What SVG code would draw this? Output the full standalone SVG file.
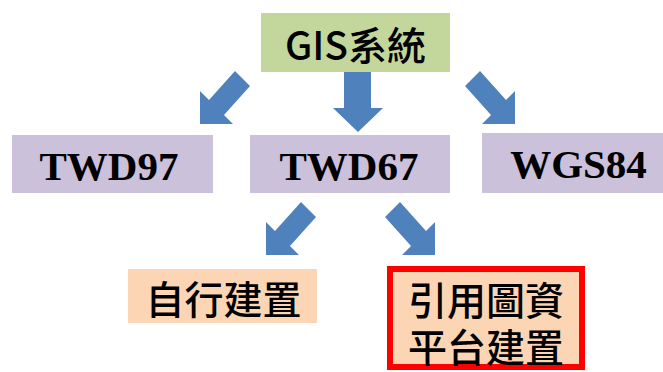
<svg xmlns="http://www.w3.org/2000/svg" width="663" height="372" viewBox="0 0 663 372">
<style>
.arrow{fill:#4F81BD}
.green{fill:#C3D69B}
.purple{fill:#CCC1DA}
.peach{fill:#FCD5B5}
.red{fill:#FCD5B5;stroke:#FF0000;stroke-width:6}
.cjk{font-family:"Noto Sans CJK TC","Noto Sans",sans-serif;font-size:39px;font-weight:500;fill:#000;text-anchor:middle}
.times{font-family:"Liberation Serif","Times New Roman",serif;font-weight:bold;font-size:41px;fill:#000;text-anchor:middle}
</style>
<rect width="663" height="372" fill="#FFFFFF"/>
<g id="connectors">
<polygon class="arrow" points="200,124 200,91 209,100 235,71 250,86 224,115 233,124"/>
<polygon class="arrow" points="344,72 371,72 371,108 383,108 358,132 333,108 344,108"/>
<polygon class="arrow" points="515,124 515,91 506,100 480,71 465,86 491,115 482,124"/>
<polygon class="arrow" points="266,255 266,222 275,231 301,202 316,217 290,246 299,255"/>
<polygon class="arrow" points="435,255 435,222 426,231 400,202 385,217 411,246 402,255"/>
</g>
<g id="gis">
<rect class="green" x="261" y="13" width="189" height="59"/>
<text class="cjk" x="355.5" y="60" font-size="40" font-weight="bold">GIS系統</text>
</g>
<g id="twd97">
<rect class="purple" x="12" y="135" width="201" height="58"/>
<text class="times" x="109" y="180">TWD97</text>
</g>
<g id="twd67">
<rect class="purple" x="250" y="135" width="200" height="58"/>
<text class="times" x="349" y="180">TWD67</text>
</g>
<g id="wgs84">
<rect class="purple" x="482" y="133" width="181" height="60"/>
<text class="times" x="578.5" y="178">WGS84</text>
</g>
<g id="self-build">
<rect class="peach" x="128" y="269" width="189" height="54"/>
<text class="cjk" x="223.5" y="314">自行建置</text>
</g>
<g id="platform-build">
<rect class="red" x="390" y="269" width="192" height="98"/>
<text class="cjk" x="486" y="315">引用圖資</text>
<text class="cjk" x="486" y="362">平台建置</text>
</g>
</svg>
